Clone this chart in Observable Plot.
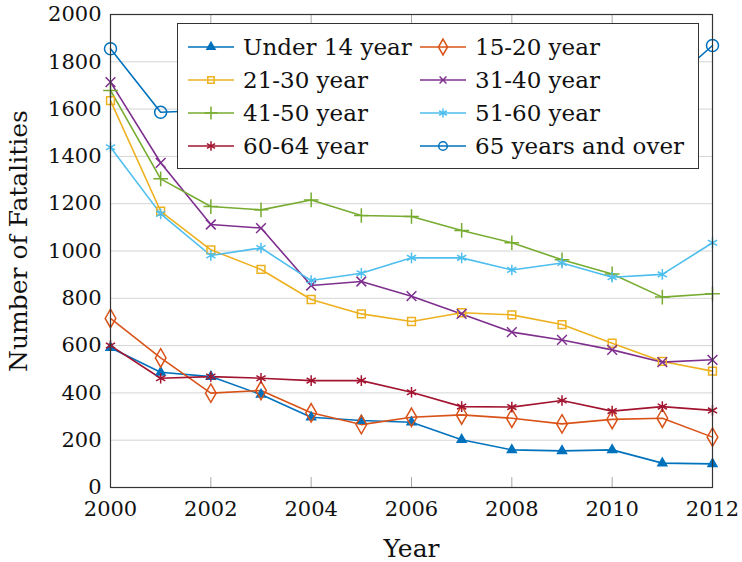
<!DOCTYPE html>
<html><head><meta charset="utf-8">
<script src="https://cdn.jsdelivr.net/npm/d3@7"></script>
<script src="https://cdn.jsdelivr.net/npm/@observablehq/plot@0.6"></script>
<style>
body{margin:0;background:#fff}
#wrap{position:relative;width:742px;height:562px;font-family:"DejaVu Serif",serif}
#legend{position:absolute;left:177px;top:23px;width:522px;height:146px;border:1px solid #333;background:#fff;box-sizing:border-box}
.item{position:absolute;display:flex;align-items:center;height:33px;font-size:23px;color:#111;white-space:nowrap}
.item svg{margin-right:8px}
</style>
</head><body><div id="wrap"></div>
<script>
const years = [2000,2001,2002,2003,2004,2005,2006,2007,2008,2009,2010,2011,2012];
const under14 = [591,487,469,393,297,283,276,202,159,155,159,103,100];
const y15to20 = [715,548,399,410,316,266,297,307,293,269,288,293,213];
const y21to30 = [1636,1168,1005,922,795,734,702,739,730,689,610,533,492];
const y31to40 = [1714,1373,1112,1097,854,871,809,734,657,624,582,530,540];
const y41to50 = [1679,1305,1188,1174,1216,1150,1146,1087,1035,963,903,805,819];
const y51to60 = [1439,1157,981,1013,875,906,971,971,920,949,889,901,1035];
const y60to64 = [600,462,469,462,452,452,403,342,340,368,323,342,326];
const y65over = [1855,1587,1595,1640,1680,1700,1720,1700,1710,1690,1700,1680,1869];
const seriesNames = ["Under 14 year","15-20 year","21-30 year","31-40 year","41-50 year","51-60 year","60-64 year","65 years and over"];
const seriesValues = [under14,y15to20,y21to30,y31to40,y41to50,y51to60,y60to64,y65over];
const colors = ["#0072BD","#D95319","#EDB120","#7E2F8E","#77AC30","#4DBEEE","#A2142F","#0072BD"];
const symbols = ["triangle","diamond","square","times","plus","asterisk","asterisk","circle"];
const radii = [3.3,5.6,4.4,4.5,4.8,5,5,6];
const filled = [true,false,false,false,false,false,false,false];
const xTicks = [2000,2002,2004,2006,2008,2010,2012];
const yTicks = [0,200,400,600,800,1000,1200,1400,1600,1800,2000];
const xTitle = "Year";
const yTitle = "Number of Fatalities";

const rows = [];
seriesNames.forEach((s,i)=>years.forEach((yr,j)=>rows.push({series:s, year:yr, value:seriesValues[i][j], idx:i})));

const marks = [
  Plot.gridY(yTicks, {stroke:"#d4d4d4", strokeOpacity:1, strokeWidth:1}),
  Plot.ruleX(xTicks, {y1:0, y2:42, stroke:"#a8a8a8", strokeWidth:1}),
  Plot.ruleX(xTicks, {y1:2000, y2:1958, stroke:"#a8a8a8", strokeWidth:1}),
  Plot.axisX({ticks:xTicks, tickFormat:d=>String(d), tickSize:0, tickPadding:14, label:null, fontSize:21}),
  Plot.axisY({ticks:yTicks, tickFormat:d=>String(d), tickSize:0, tickPadding:9, label:null, fontSize:21}),
  Plot.text([xTitle], {frameAnchor:"bottom", textAnchor:"middle", lineAnchor:"middle", dy:61, fontSize:25, fill:"#111"}),
  Plot.text([yTitle], {frameAnchor:"left", textAnchor:"middle", lineAnchor:"middle", dx:-92, dy:-10, rotate:-90, fontSize:25, fill:"#111"}),
];
seriesNames.forEach((s,i)=>{
  const d = rows.filter(r=>r.idx===i);
  marks.push(Plot.line(d, {x:"year", y:"value", stroke:colors[i], strokeWidth:1.6}));
});
seriesNames.forEach((s,i)=>{
  const d = rows.filter(r=>r.idx===i);
  marks.push(Plot.dot(d, {x:"year", y:"value", symbol:symbols[i], r:radii[i], stroke:colors[i], fill: filled[i]?colors[i]:"none", strokeWidth:1.5}));
});
marks.push(Plot.frame({stroke:"#333", strokeWidth:1.2}));

const chart = Plot.plot({
  width:742, height:562,
  marginLeft:110, marginRight:30, marginTop:14, marginBottom:75,
  x:{domain:[2000,2012]},
  y:{domain:[0,2000]},
  style:{fontFamily:"DejaVu Serif", fontSize:"22px", color:"#111", background:"#fff", overflow:"visible"},
  marks
});
const wrap = document.getElementById("wrap");
wrap.appendChild(chart);

// legend
const legend = document.createElement("div");
legend.id = "legend";
const symMap = {triangle:d3.symbolTriangle, diamond:d3.symbolDiamond, square:d3.symbolSquare, times:d3.symbolTimes, plus:d3.symbolPlus, asterisk:d3.symbolAsterisk, circle:d3.symbolCircle};
const legendR = [3,4.8,3.6,3.2,4.2,4.2,4.4,4.3];
seriesNames.forEach((s,i)=>{
  const col = i%2, row = Math.floor(i/2);
  const it = document.createElement("div");
  it.className = "item";
  it.style.left = (col===0 ? 9 : 241) + "px";
  it.style.top = (6 + row*33) + "px";
  const path = d3.symbol(symMap[symbols[i]], Math.PI*legendR[i]*legendR[i])();
  it.innerHTML = `<svg width="48" height="20"><line x1="1" x2="47" y1="10" y2="10" stroke="${colors[i]}" stroke-width="1.6"/><path transform="translate(24,10)" d="${path}" stroke="${colors[i]}" stroke-width="1.5" fill="${filled[i]?colors[i]:"none"}"/></svg><span>${s}</span>`;
  legend.appendChild(it);
});
wrap.appendChild(legend);
</script>
</body></html>
